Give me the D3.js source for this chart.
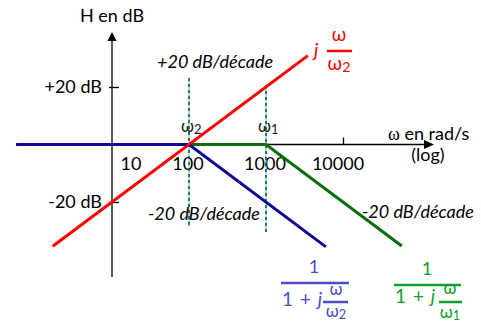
<!DOCTYPE html>
<html>
<head>
<meta charset="utf-8">
<script src="https://cdn.jsdelivr.net/npm/d3@7/dist/d3.min.js"></script>
<style>
  html, body { margin: 0; padding: 0; background: #fff; }
  svg { display: block; }
  text { font-family: "Lato", "Open Sans", sans-serif; }
</style>
</head>
<body>
<script>
// Asymptotic Bode magnitude plot: j·ω/ω2, 1/(1+jω/ω2), 1/(1+jω/ω1)
const omega2 = 100;
const omega1 = 1000;

// Asymptote corner points [ω (rad/s), gain (dB)]
const redPoints   = [[1.7, -35.4], [3500, 30.9]];
const bluePoints  = [[0.57, 0], [100, 0], [6000, -35.6]];
const greenPoints = [[5.5, 0], [1000, 0], [58000, -35.3]];

// Axis tick labels
const xTickLabels = [10, 100, 1000, 10000];
const yTickValues = [20, -20];
const yTickLabels = ["+20 dB", "-20 dB"];

const W = 481, H = 323;
const FS = 18;
const svg = d3.select("body").append("svg").attr("width", W).attr("height", H);

const x = d3.scaleLog().domain([10, 10000]).range([112, 343]);
const y = d3.scaleLinear().domain([-20, 20]).range([202, 87]);

const x0 = x(10), y0 = y(0);

// Axes
svg.append("line").attr("x1", 16).attr("x2", 427).attr("y1", y0).attr("y2", y0)
  .attr("stroke", "#000").attr("stroke-width", 1.3);
svg.append("path").attr("d", `M434,${y0} L424,${y0 - 4.5} L424,${y0 + 4.5} Z`).attr("fill", "#000");

svg.append("line").attr("x1", x0).attr("x2", x0).attr("y1", 277).attr("y2", 38)
  .attr("stroke", "#000").attr("stroke-width", 1.3);
svg.append("path").attr("d", `M${x0},32 L${x0 - 4.5},41 L${x0 + 4.5},41 Z`).attr("fill", "#000");

// Tick at 10000 (the other decades are marked by the corner lines)
svg.append("g").attr("transform", `translate(0,${y0})`)
  .call(d3.axisTop(x).tickValues([10000]).tickSize(7).tickFormat(""))
  .call(g => g.select(".domain").remove())
  .selectAll("line").attr("stroke-width", 1.3);

// y ticks
svg.append("g").attr("transform", `translate(${x0 - 3},0)`)
  .call(d3.axisRight(y).tickValues(yTickValues).tickSize(10).tickFormat(""))
  .call(g => g.select(".domain").remove())
  .selectAll("line").attr("stroke-width", 1.3);

svg.selectAll(".ylab").data(yTickValues).join("text")
  .attr("class", "ylab")
  .attr("x", 102).attr("y", d => y(d) + 6)
  .attr("text-anchor", "end").attr("font-size", FS)
  .text((d, i) => yTickLabels[i]);

// x tick labels
svg.selectAll(".xlab").data(xTickLabels).join("text")
  .attr("class", "xlab")
  .attr("x", d => x(d) + (d === 10 ? 19 : (d === 10000 ? -5 : -1)))
  .attr("y", 170)
  .attr("text-anchor", "middle").attr("font-size", FS)
  .text(d => d);

// Axis titles
svg.append("text").attr("x", x0).attr("y", 22).attr("text-anchor", "middle")
  .attr("font-size", FS).text("H en dB");

const wt = svg.append("text").attr("x", 388).attr("y", 140).attr("font-size", FS);
wt.append("tspan").attr("font-family", "Liberation Serif").text("ω");
wt.append("tspan").text(" en rad/s");
svg.append("text").attr("x", 428).attr("y", 161).attr("text-anchor", "middle")
  .attr("font-size", FS).text("(log)");

// Corner frequency markers
[[omega2, 78, 227], [omega1, 85, 232]].forEach(([w, yt, yb]) => {
  svg.append("line").attr("x1", x(w)).attr("x2", x(w)).attr("y1", yt).attr("y2", yb)
    .attr("stroke", "#40e0c0").attr("stroke-width", 1.1);
  svg.append("line").attr("x1", x(w)).attr("x2", x(w)).attr("y1", yt).attr("y2", yb)
    .attr("stroke", "#000").attr("stroke-width", 1.1).attr("stroke-dasharray", "3,3");
});

[[omega2, "2"], [omega1, "1"]].forEach(([w, sub]) => {
  const t = svg.append("text").attr("x", x(w) - 8).attr("y", 132)
    .attr("font-family", "Liberation Serif").attr("font-size", 17).attr("fill", "#222");
  t.append("tspan").text("ω");
  t.append("tspan").attr("font-size", 13).attr("dy", 2).text(sub);
});

// Asymptotes
const line = d3.line().x(d => x(d[0])).y(d => y(d[1]));
svg.append("path").datum(greenPoints).attr("d", line)
  .attr("fill", "none").attr("stroke", "#0a6e0a").attr("stroke-width", 3);
svg.append("path").datum(bluePoints).attr("d", line)
  .attr("fill", "none").attr("stroke", "#0a0a96").attr("stroke-width", 3);
svg.append("path").datum(redPoints).attr("d", line)
  .attr("fill", "none").attr("stroke", "#ff0000").attr("stroke-width", 3);

// Slope annotations
const slope = (tx, ty, s) => svg.append("text").attr("x", tx).attr("y", ty)
  .attr("font-size", FS).attr("font-style", "italic").text(s);
slope(157, 68, "+20 dB/décade");
slope(148, 220, "-20 dB/décade");
slope(362, 218, "-20 dB/décade");

// Transfer-function labels
function frac(cx, yNum, yBar, yDen, x1, x2, color, sub, fs) {
  svg.append("text").attr("x", cx).attr("y", yNum).attr("text-anchor", "middle")
    .attr("font-size", fs).attr("fill", color).text("ω");
  svg.append("line").attr("x1", x1).attr("x2", x2).attr("y1", yBar).attr("y2", yBar)
    .attr("stroke", color).attr("stroke-width", 2.5);
  const d = svg.append("text").attr("x", cx).attr("y", yDen).attr("text-anchor", "middle")
    .attr("font-size", fs).attr("fill", color);
  d.append("tspan").text("ω");
  d.append("tspan").attr("font-size", fs * 0.75).attr("dy", 2).text(sub);
}

// j ω/ω2
svg.append("text").attr("x", 314).attr("y", 57).attr("font-size", 19)
  .attr("font-style", "italic").attr("fill", "#ff0000").text("j");
frac(339, 41, 51, 70, 327, 352, "#ff0000", "2", 19);

// 1 / (1 + j ω/ω2)
const cBlue = "#4b4bcc";
svg.append("text").attr("x", 314).attr("y", 273).attr("text-anchor", "middle")
  .attr("font-size", FS).attr("fill", cBlue).text("1");
svg.append("line").attr("x1", 281).attr("x2", 349).attr("y1", 283).attr("y2", 283)
  .attr("stroke", cBlue).attr("stroke-width", 2.5);
const tb = svg.append("text").attr("x", 282).attr("y", 306).attr("font-size", 19)
  .attr("word-spacing", 2).attr("fill", cBlue);
tb.append("tspan").text("1 + ");
tb.append("tspan").attr("font-style", "italic").text("j");
frac(336, 295, 302, 317, 323, 348, cBlue, "2", 17);

// 1 / (1 + j ω/ω1)
const cGreen = "#12a02c";
svg.append("text").attr("x", 427).attr("y", 275).attr("text-anchor", "middle")
  .attr("font-size", FS).attr("fill", cGreen).text("1");
svg.append("line").attr("x1", 394).attr("x2", 461).attr("y1", 285).attr("y2", 285)
  .attr("stroke", cGreen).attr("stroke-width", 2.5);
const tg = svg.append("text").attr("x", 395).attr("y", 303).attr("font-size", 19)
  .attr("word-spacing", 2).attr("fill", cGreen);
tg.append("tspan").text("1 + ");
tg.append("tspan").attr("font-style", "italic").text("j");
frac(450, 294, 302, 318, 439, 462, cGreen, "1", 17);
</script>
</body>
</html>
